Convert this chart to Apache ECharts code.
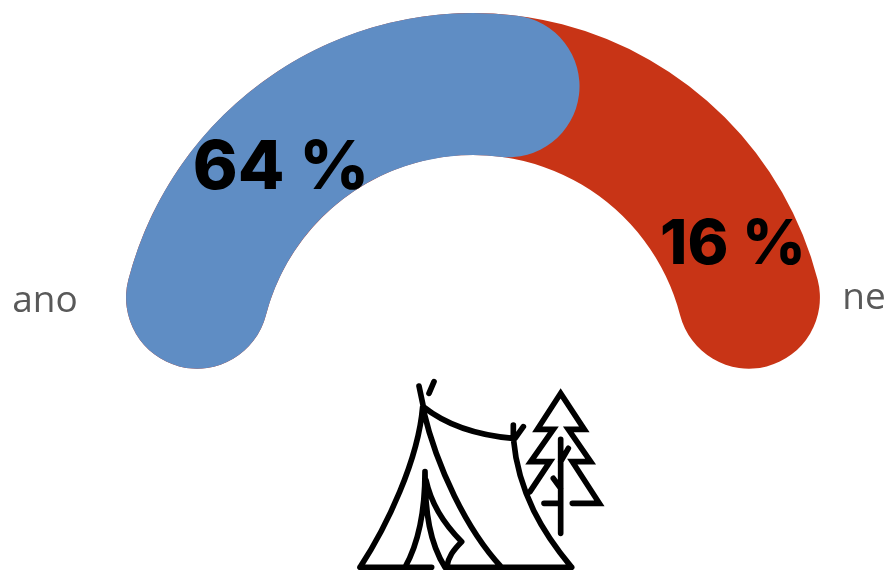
<!DOCTYPE html>
<html>
<head>
<meta charset="utf-8">
<style>html,body{margin:0;padding:0;background:#fff}#c{width:889px;height:570px}</style>
<script src="https://cdn.jsdelivr.net/npm/echarts@6/dist/echarts.min.js"></script>
</head>
<body>
<div id="c"></div>
<script>
const categories = ['ano', 'ne'];
const percentLabels = [64, 16];
// Arc lengths as drawn in the picture (they are not proportional to the printed percentages)
const arcSpans = [63.5, 52.5];

const arcTotal = arcSpans[0] + arcSpans[1];
const FONT = '"Inter", "Open Sans", sans-serif';

const gaugeBase = {
  type: 'gauge',
  center: [473, 369],
  radius: 356,
  startAngle: 165.5,
  endAngle: 14.5,
  min: 0,
  max: arcTotal,
  pointer: { show: false },
  axisLine: { show: false },
  axisTick: { show: false },
  splitLine: { show: false },
  axisLabel: { show: false },
  anchor: { show: false },
  animation: false
};

function arcLayer(value, color, z) {
  return Object.assign({}, gaugeBase, {
    z: z,
    progress: { show: true, width: 142, roundCap: true, itemStyle: { color: color } },
    title: { show: false },
    detail: { show: false },
    data: [{ value: value }]
  });
}

const labelLayer = Object.assign({}, gaugeBase, {
  z: 10,
  progress: { show: false },
  title: { show: true, color: '#595959', fontSize: 37, fontFamily: '"Open Sans", sans-serif' },
  detail: {
    show: true, color: '#000', fontSize: 68, fontWeight: 800,
    width: 320, height: 100, lineHeight: 80,
    fontFamily: FONT, formatter: '{value} %', valueAnimation: false
  },
  data: [
    { name: categories[0], value: percentLabels[0], title: { offsetCenter: [-428, -68] }, detail: { offsetCenter: [-192, -200] } },
    { name: categories[1], value: percentLabels[1], title: { offsetCenter: [391, -71] }, detail: { offsetCenter: [260, -124], fontSize: 62 } }
  ]
});

const tent = [
  'M237,48 L250,110', 'M282,35 L267,70',
  'M250,110 Q350,190 520,205',
  'M248,110 C235,270 140,470 60,592',
  'M250,120 C290,290 380,480 485,592',
  'M60,592 L275,592', 'M320,592 L695,592',
  'M520,205 C535,370 610,490 695,592',
  'M520,165 L520,205', 'M550,170 L525,205',
  'M255,305 C255,420 235,520 195,592',
  'M255,305 C255,430 270,520 315,592',
  'M258,330 C275,410 320,470 365,515',
  'M365,515 C340,540 325,560 320,592',
  'M570,365 L630,275 L572,275 L640,178 L592,178 L662,70 L733,178 L685,178 L752,275 L697,275 L778,400 L697,400',
  'M612,400 L662,400', 'M662,208 L662,490',
  'M685,235 L662,275', 'M640,325 L662,355'
].join(' ');

echarts.graphic.registerShape('tentIcon', echarts.graphic.extendPath(tent, {}));

const chart = echarts.init(document.getElementById('c'), null, { renderer: 'canvas' });
chart.setOption({
  animation: false,
  backgroundColor: '#fff',
  series: [
    arcLayer(arcTotal, '#C83416', 1),
    arcLayer(arcSpans[0], '#5F8DC4', 2),
    labelLayer
  ],
  graphic: [{
    type: 'tentIcon',
    x: 340, y: 370, scaleX: 1 / 3, scaleY: 1 / 3, z: 5,
    style: { fill: 'none', stroke: '#000', lineWidth: 17, lineCap: 'round', lineJoin: 'miter' }
  }]
});
</script>
</body>
</html>
